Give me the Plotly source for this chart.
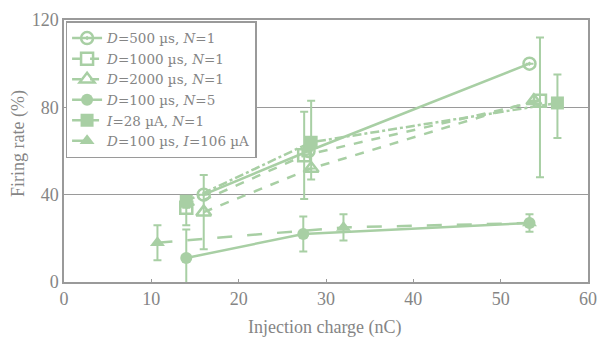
import plotly.graph_objects as go

# Firing rate vs. injection charge, six stimulation conditions
names = [
    "<i>D</i>=500 µs, <i>N</i>=1",
    "<i>D</i>=1000 µs, <i>N</i>=1",
    "<i>D</i>=2000 µs, <i>N</i>=1",
    "<i>D</i>=100 µs, <i>N</i>=5",
    "<i>I</i>=28 µA, <i>N</i>=1",
    "<i>D</i>=100 µs, <i>I</i>=106 µA",
]

d500_x = [16.0, 28.0, 53.3]
d500_y = [40, 60, 100]
d500_err = [0, 0, 0]

d1000_x = [14.0, 27.5, 54.5]
d1000_y = [34, 58, 83]
d1000_err_plus = [0, 20, 29]
d1000_err_minus = [0, 20, 35]

d2000_x = [16.0, 28.3, 53.8]
d2000_y = [32, 52, 83]
d2000_err = [17, 0, 0]

n5_x = [14.0, 27.4, 53.3]
n5_y = [11, 22, 27]
n5_err = [13, 8, 4]

i28_x = [14.0, 28.3, 56.5]
i28_y = [37, 64, 82]
i28_err_plus = [0, 19, 13]
i28_err_minus = [11, 17, 16]

i106_x = [10.7, 32.0, 53.3]
i106_y = [18, 25, 27]
i106_err = [8, 6, 0]

x_ticks = [0, 10, 20, 30, 40, 50, 60]
y_ticks = [0, 40, 80, 120]

x_title = "Injection charge (nC)"
y_title = "Firing rate (%)"

green = "#a8cfa4"
ink = "#858585"
frame = "#9a9a9a"
serif = "'Liberation Serif', 'Times New Roman', 'DejaVu Serif', serif"
wide_serif = "'DejaVu Serif', 'Liberation Serif', serif"


def err(plus, minus=None):
    e = dict(type="data", array=plus, color=green, thickness=2, width=4, visible=True)
    if minus is not None:
        e["symmetric"] = False
        e["arrayminus"] = minus
    return e


series = [
    (d500_x, d500_y, err(d500_err), "circle-open-dot", "solid", 12),
    (d1000_x, d1000_y, err(d1000_err_plus, d1000_err_minus), "square-open", "dash", 12),
    (d2000_x, d2000_y, err(d2000_err), "triangle-up-open", "dash", 13),
    (n5_x, n5_y, err(n5_err), "circle", "solid", 12),
    (i28_x, i28_y, err(i28_err_plus, i28_err_minus), "square", "dashdot", 13),
    (i106_x, i106_y, err(i106_err), "triangle-up", "longdash", 13),
]

fig = go.Figure()
for name, (xs, ys, ebar, sym, dash, size) in zip(names, series):
    open_marker = sym.endswith("open") or sym.endswith("open-dot")
    fig.add_trace(go.Scatter(
        x=xs, y=ys, name=name, mode="lines+markers",
        line=dict(color=green, width=2.5, dash=dash),
        marker=dict(symbol=sym, size=size, color=green,
                    line=dict(color=green, width=2.5 if open_marker else 0)),
        error_y=ebar,
    ))

# Axis titles placed as paper-anchored annotations
fig.add_annotation(text=x_title, xref="paper", yref="paper", x=0.498, y=-0.172,
                   xanchor="center", yanchor="middle", showarrow=False,
                   font=dict(family=serif, size=18, color=ink))
fig.add_annotation(text=y_title, xref="paper", yref="paper", x=-0.088, y=0.53,
                   xanchor="center", yanchor="middle", showarrow=False, textangle=-90,
                   font=dict(family=serif, size=18, color=ink))

fig.update_layout(
    width=601, height=341,
    margin=dict(l=64, r=13, t=20, b=59),
    paper_bgcolor="white", plot_bgcolor="white",
    font=dict(family=serif, color=ink, size=17),
    showlegend=True,
    legend=dict(
        x=0.003, y=0.995, xanchor="left", yanchor="top",
        bgcolor="white", bordercolor=frame, borderwidth=1.5,
        font=dict(family=wide_serif, size=13.5, color=ink),
        tracegroupgap=0, itemwidth=30,
    ),
    xaxis=dict(
        range=[0, 60], tickvals=x_ticks, ticks="inside", ticklen=3,
        tickcolor=frame, showgrid=False, zeroline=False, automargin=False,
        showline=True, mirror=True, linecolor=frame, linewidth=1.5,
        tickfont=dict(family=serif, size=18),
    ),
    yaxis=dict(
        range=[0, 120], tickvals=y_ticks, ticks="", showgrid=True,
        gridcolor=frame, gridwidth=1.2, zeroline=False, automargin=False,
        showline=True, mirror=True, linecolor=frame, linewidth=1.5,
        tickfont=dict(family=serif, size=18),
    ),
)

fig.write_html("out.html")
